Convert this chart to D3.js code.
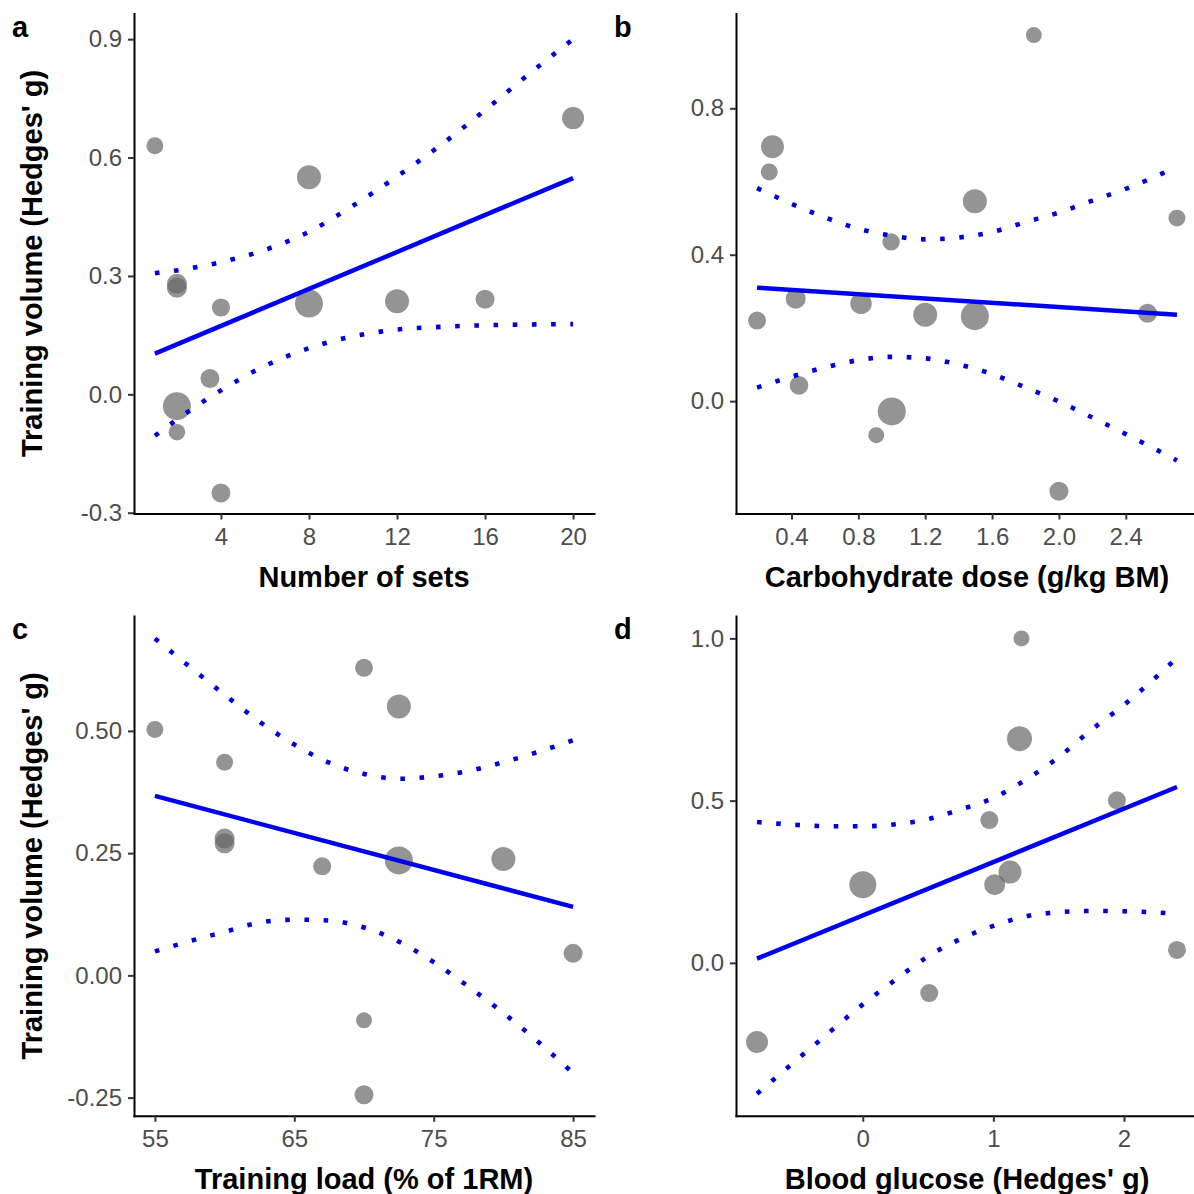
<!DOCTYPE html>
<html>
<head>
<meta charset="utf-8">
<script src="https://cdn.jsdelivr.net/npm/d3@7"></script>
<style>
  body { margin: 0; background: #fff; }
  svg { display: block; font-family: "Liberation Sans", Arial, sans-serif; }
</style>
</head>
<body>
<div id="chart"></div>
<script>
// panel a - number of sets
var setsX = [1, 2, 2, 4, 8, 8, 12, 16, 20, 3.5, 2, 2, 4];
var setsY = [0.63, 0.28, 0.27, 0.22, 0.55, 0.23, 0.236, 0.241, 0.70, 0.04, -0.03, -0.096, -0.25];
var setsW = [4.5, 6.25, 6.25, 5.1, 9, 12.25, 9, 5.6, 7.6, 5.6, 12.25, 4.3, 5.6];
var setsFitX = [1, 20];
var setsFitY = [0.103, 0.548];
var setsCiX = [1, 2, 4, 6, 8, 10, 12, 14, 16, 18, 20];
var setsCiLo = [-0.105, -0.064, 0.010, 0.072, 0.117, 0.147, 0.164, 0.171, 0.175, 0.177, 0.178];
var setsCiHi = [0.307, 0.314, 0.335, 0.366, 0.412, 0.478, 0.552, 0.632, 0.72, 0.812, 0.90];
var setsTicksX = [4, 8, 12, 16, 20];
var setsTicksY = [-0.3, 0, 0.3, 0.6, 0.9];

// panel b - carbohydrate dose
var choX = [1.85, 0.286, 0.267, 1.497, 2.706, 0.996, 0.194, 0.425, 0.816, 1.2, 1.497, 2.53, 0.445, 1.0, 0.907, 2.0];
var choY = [1.0, 0.695, 0.626, 0.546, 0.50, 0.435, 0.22, 0.28, 0.267, 0.236, 0.232, 0.24, 0.043, -0.028, -0.093, -0.246];
var choW = [4, 8.27, 4.5, 9, 4.5, 4.7, 5.06, 6.25, 7.15, 9, 12.25, 5.64, 5.4, 12.25, 4, 5.64];
var choFitX = [0.194, 2.706];
var choFitY = [0.31, 0.236];
var choCiX = [0.194, 0.4, 0.6, 0.8, 1.0, 1.2, 1.4, 1.6, 1.8, 2.0, 2.2, 2.4, 2.706];
var choCiLo = [0.037, 0.067, 0.092, 0.112, 0.121, 0.117, 0.10, 0.074, 0.037, -0.001, -0.045, -0.09, -0.162];
var choCiHi = [0.582, 0.539, 0.502, 0.471, 0.452, 0.442, 0.447, 0.462, 0.489, 0.515, 0.548, 0.580, 0.64];
var choTicksX = [0.4, 0.8, 1.2, 1.6, 2.0, 2.4];
var choTicksY = [0, 0.4, 0.8];

// panel c - training load
var loadX = [55, 70, 72.5, 60, 60, 60, 67, 72.5, 80, 85, 70, 70];
var loadY = [0.503, 0.629, 0.55, 0.436, 0.28, 0.27, 0.223, 0.235, 0.238, 0.045, -0.092, -0.244];
var loadW = [4.5, 5.06, 9, 4.5, 6.25, 6.25, 5.06, 12.25, 9, 5.64, 4, 5.64];
var loadFitX = [55, 85];
var loadFitY = [0.367, 0.14];
var loadCiX = [55, 57.5, 60, 62.5, 65, 67.5, 70, 72.5, 75, 77.5, 80, 82.5, 85];
var loadCiLo = [0.049, 0.07, 0.089, 0.108, 0.114, 0.112, 0.098, 0.069, 0.027, -0.023, -0.077, -0.136, -0.20];
var loadCiHi = [0.689, 0.631, 0.574, 0.519, 0.472, 0.435, 0.412, 0.402, 0.407, 0.418, 0.436, 0.457, 0.481];
var loadTicksX = [55, 65, 75, 85];
var loadTicksY = [-0.25, 0, 0.25, 0.5];

// panel d - blood glucose
var gluX = [1.215, 1.2, 1.946, 0.969, 1.127, 1.01, 0, 2.406, 0.509, -0.81];
var gluY = [1.0, 0.691, 0.501, 0.44, 0.28, 0.241, 0.241, 0.04, -0.093, -0.244];
var gluW = [4, 9.77, 5.06, 5.06, 8.27, 6.9, 11.4, 5.06, 5.06, 7.56];
var gluFitX = [-0.81, 2.406];
var gluFitY = [0.013, 0.542];
var gluCiX = [-0.81, -0.5, -0.25, 0, 0.25, 0.5, 0.75, 1.0, 1.25, 1.5, 1.75, 2.0, 2.406];
var gluCiLo = [-0.403, -0.297, -0.212, -0.128, -0.052, 0.02, 0.074, 0.114, 0.144, 0.156, 0.16, 0.159, 0.152];
var gluCiHi = [0.434, 0.425, 0.421, 0.421, 0.427, 0.443, 0.473, 0.508, 0.565, 0.634, 0.718, 0.795, 0.94];
var gluTicksX = [0, 1, 2];
var gluTicksY = [0, 0.5, 1.0];

var yTitle = "Training volume (Hedges' g)";

const width = 1194, height = 1194;
const svg = d3.select("#chart").append("svg")
    .attr("width", width)
    .attr("height", height);
svg.append("rect").attr("width", width).attr("height", height).attr("fill", "#fff");

var rScale = d3.scaleSqrt().domain([0, 12.25]).range([0, 14]);

function drawPanel(p) {
    const g = svg.append("g");
    const x = d3.scaleLinear().domain(p.xDomain).range([p.left, p.left + p.w]);
    const y = d3.scaleLinear().domain(p.yDomain).range([p.top + p.h, p.top]);

    // points
    const pts = p.xs.map((v, i) => ({x: v, y: p.ys[i], w: p.ws[i]}));
    g.append("g").selectAll("circle")
        .data(pts)
        .join("circle")
        .attr("cx", d => x(d.x))
        .attr("cy", d => y(d.y))
        .attr("r", d => rScale(d.w))
        .attr("fill", "#666")
        .attr("fill-opacity", 0.7);

    // fitted line
    const fit = p.fitX.map((v, i) => [v, p.fitY[i]]);
    g.append("path")
        .attr("d", d3.line().x(d => x(d[0])).y(d => y(d[1]))(fit))
        .attr("fill", "none")
        .attr("stroke", "#0000f0")
        .attr("stroke-width", 4.5);

    // confidence bands (dotted)
    const ciLine = d3.line().x(d => x(d[0])).y(d => y(d[1])).curve(d3.curveMonotoneX);
    [p.ciLo, p.ciHi].forEach(arr => {
        g.append("path")
            .attr("d", ciLine(p.ciX.map((v, i) => [v, arr[i]])))
            .attr("fill", "none")
            .attr("stroke", "#0000d8")
            .attr("stroke-width", 4.6)
            .attr("stroke-dasharray", "4.6,14.6");
    });

    // axes
    const xAxis = g.append("g")
        .attr("transform", `translate(0,${p.top + p.h})`)
        .call(d3.axisBottom(x).tickValues(p.ticksX).tickSize(6).tickSizeOuter(0).tickPadding(8).tickFormat(p.fmtX));
    const yAxis = g.append("g")
        .attr("transform", `translate(${p.left},0)`)
        .call(d3.axisLeft(y).tickValues(p.ticksY).tickSize(6).tickSizeOuter(0).tickPadding(6).tickFormat(p.fmtY));
    [xAxis, yAxis].forEach(a => {
        a.select(".domain").attr("stroke", "#000").attr("stroke-width", 2).attr("stroke-linecap", "square");
        a.selectAll(".tick line").attr("stroke", "#333").attr("stroke-width", 2);
        a.selectAll(".tick text")
            .attr("fill", "#4d4d4d")
            .style("font-size", "24px")
            .style("font-family", "'Liberation Sans', Arial, sans-serif");
    });

    // titles
    g.append("text")
        .attr("x", p.left + p.w / 2)
        .attr("y", p.top + p.h + 73)
        .attr("text-anchor", "middle")
        .style("font-size", "29px")
        .style("font-weight", "bold")
        .text(p.xTitle);
    if (p.yTitle) {
        g.append("text")
            .attr("transform", `translate(${p.left - 92},${p.top + p.h / 2}) rotate(-90)`)
            .attr("text-anchor", "middle")
            .style("font-size", "29px")
            .style("font-weight", "bold")
            .text(p.yTitle);
    }
    g.append("text")
        .attr("x", p.labelX)
        .attr("y", p.top + 23)
        .style("font-size", "29px")
        .style("font-weight", "bold")
        .text(p.label);
}

const f1 = d => d.toFixed(1);
const f2 = d => d.toFixed(2);
const f0 = d => d.toFixed(0);

drawPanel({
    label: "a", labelX: 12, left: 134, top: 13.5, w: 460, h: 500,
    xDomain: [0.05, 20.95], yDomain: [-0.302, 0.965],
    xs: setsX, ys: setsY, ws: setsW, fitX: setsFitX, fitY: setsFitY,
    ciX: setsCiX, ciLo: setsCiLo, ciHi: setsCiHi,
    ticksX: setsTicksX, ticksY: setsTicksY, fmtX: f0, fmtY: f1,
    xTitle: "Number of sets", yTitle: yTitle
});
drawPanel({
    label: "b", labelX: 614, left: 736, top: 13.5, w: 462, h: 500,
    xDomain: [0.068, 2.832], yDomain: [-0.307, 1.059],
    xs: choX, ys: choY, ws: choW, fitX: choFitX, fitY: choFitY,
    ciX: choCiX, ciLo: choCiLo, ciHi: choCiHi,
    ticksX: choTicksX, ticksY: choTicksY, fmtX: f1, fmtY: f1,
    xTitle: "Carbohydrate dose (g/kg BM)", yTitle: null
});
drawPanel({
    label: "c", labelX: 12, left: 134, top: 616, w: 460, h: 499.7,
    xDomain: [53.5, 86.5], yDomain: [-0.287, 0.735],
    xs: loadX, ys: loadY, ws: loadW, fitX: loadFitX, fitY: loadFitY,
    ciX: loadCiX, ciLo: loadCiLo, ciHi: loadCiHi,
    ticksX: loadTicksX, ticksY: loadTicksY, fmtX: f0, fmtY: f2,
    xTitle: "Training load (% of 1RM)", yTitle: yTitle
});
drawPanel({
    label: "d", labelX: 614, left: 736, top: 616, w: 462, h: 499.7,
    xDomain: [-0.971, 2.567], yDomain: [-0.471, 1.069],
    xs: gluX, ys: gluY, ws: gluW, fitX: gluFitX, fitY: gluFitY,
    ciX: gluCiX, ciLo: gluCiLo, ciHi: gluCiHi,
    ticksX: gluTicksX, ticksY: gluTicksY, fmtX: f0, fmtY: f1,
    xTitle: "Blood glucose (Hedges' g)", yTitle: null
});
</script>
</body>
</html>
